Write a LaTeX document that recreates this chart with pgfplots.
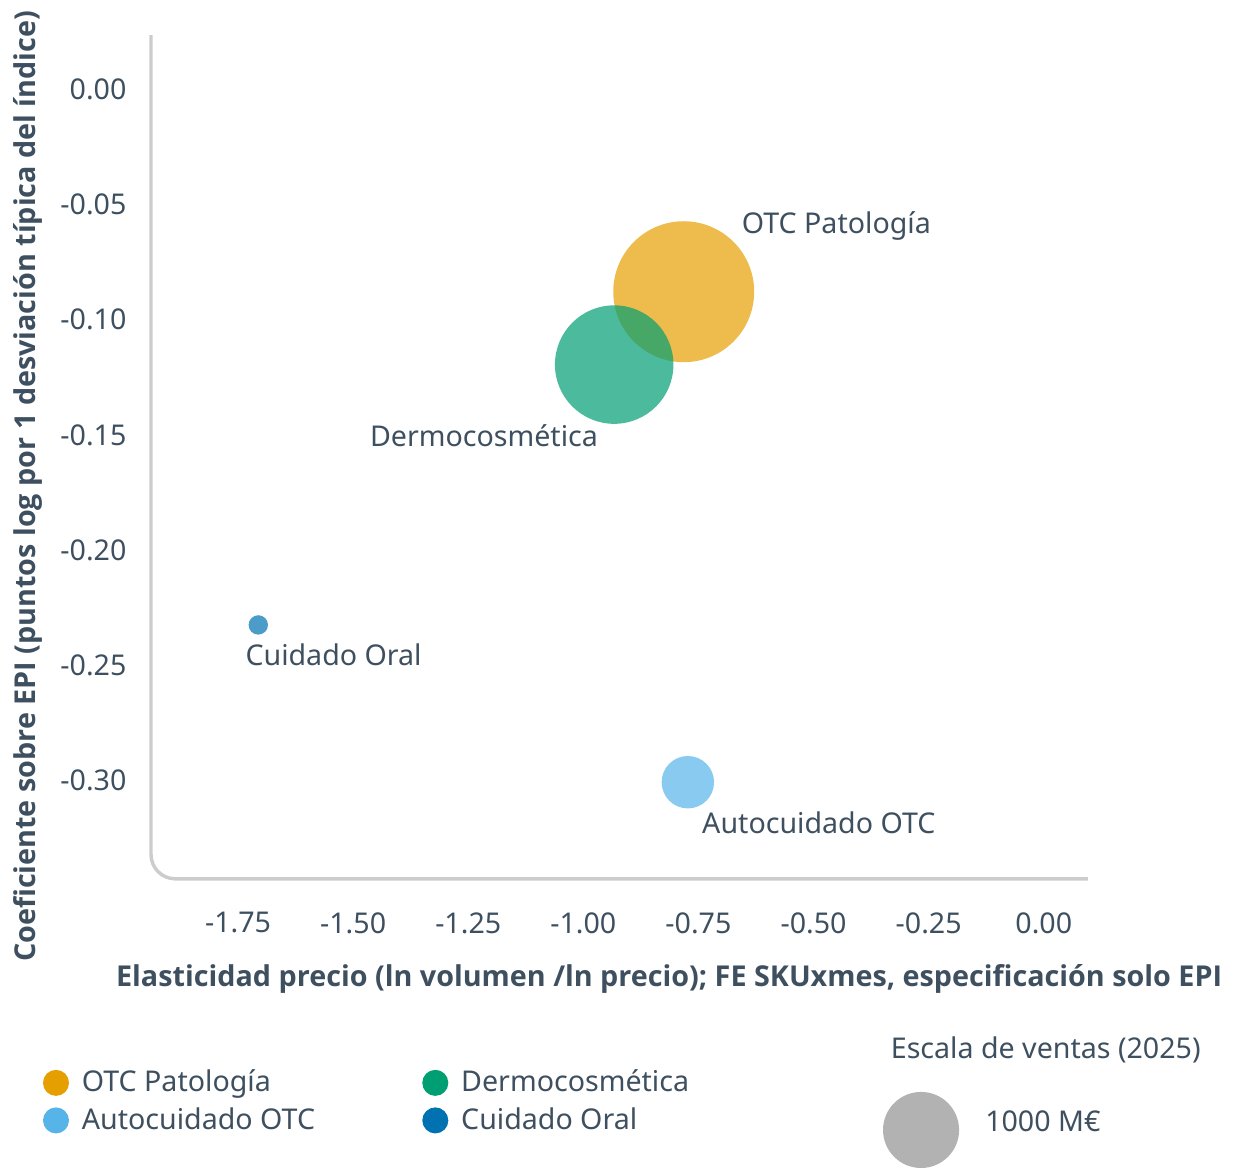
\documentclass[border=0pt]{standalone}
\usepackage{pgfplots}
\pgfplotsset{compat=1.18}
\usepackage{fontspec}
\setmainfont{Noto Sans}[AutoFakeBold=2.2]
\newfontfamily\labfont{Open Sans}
\definecolor{txt}{HTML}{3E5060}
\definecolor{axisgray}{HTML}{CCCCCC}
\definecolor{cOTC}{HTML}{E69F00}
\definecolor{cAuto}{HTML}{56B4E9}
\definecolor{cDerm}{HTML}{009E73}
\definecolor{cOral}{HTML}{0072B2}
\definecolor{cScale}{HTML}{B2B2B2}

% bubble radius: 13.3pt for 1000 M EUR, area proportional to sales
\pgfplotsset{
  bubble/.style={
    only marks, mark=*, scatter,
    scatter/use mapped color={draw=#1, draw opacity=0, fill=#1, fill opacity=0.7},
    visualization depends on={13.3*sqrt(\thisrow{s}/1000) \as \rad},
    scatter/@pre marker code/.append style={/tikz/mark size=\rad pt},
  },
}

\begin{document}
\begin{tikzpicture}
\begin{axis}[
    x=161pt, y=806.4pt,
    xmin=-1.939, xmax=0.096,
    ymin=-0.3425, ymax=0.0234,
    axis lines=left,
    axis line style={draw=none},
    clip=false,
    font=\fontsize{10}{12}\selectfont,
    xtick={-1.75,-1.5,-1.25,-1,-0.75,-0.5,-0.25,0},
    ytick={-0.3,-0.25,-0.2,-0.15,-0.1,-0.05,0},
    /pgf/number format/.cd, fixed, fixed zerofill, precision=2, assume math mode=true,
    /pgfplots/.cd,
    major tick length=0pt,
    tick style={draw=none},
    tick label style={text=txt},
    xticklabel style={anchor=center, yshift=-15.4pt},
    yticklabel style={anchor=east, inner sep=0pt, xshift=-8.4pt},
    xlabel={Elasticidad precio (ln volumen /ln precio); FE SKUxmes, especificación solo EPI},
    ylabel={Coeficiente sobre EPI (puntos log por 1 desviación típica del índice)},
    xlabel style={font=\labfont\bfseries\fontsize{10.05}{12}\selectfont, text=txt,
      at={(axis description cs:0.553,-0.1186)}, anchor=center},
    ylabel style={font=\labfont\bfseries\fontsize{10.05}{12}\selectfont, text=txt,
      at={(axis description cs:-0.131,0.465)}, anchor=center},
    legend columns=2,
    transpose legend,
    legend cell align=left,
    legend image code/.code={\fill[#1, draw=none] (4.55pt,0pt) circle (4.55pt);},
    legend style={draw=none, fill=none, inner sep=0pt, outer sep=0pt,
      at={(axis description cs:-0.1153,-0.2195)}, anchor=north west,
      text=txt, row sep=0pt,
      nodes={inner sep=2pt},
      /tikz/every even column/.append style={column sep=35.5pt}},
]
% axis lines with rounded corner
\draw[axisgray, line width=1.2pt, rounded corners=8.5pt]
  (rel axis cs:0,1) -- (rel axis cs:0,0) -- (rel axis cs:1,0);

\addplot[bubble=cOTC, forget plot] table {
x y s
-0.782 -0.0879 3432
};
\addplot[bubble=cDerm, forget plot] table {
x y s
-0.933 -0.1195 2427
};
\addplot[bubble=cOral, forget plot] table {
x y s
-1.706 -0.2324 65
};
\addplot[bubble=cAuto, forget plot] table {
x y s
-0.773 -0.3006 475
};

% size legend reference bubble (1000 M EUR)
\addplot[only marks, mark=*, scatter,
  scatter/use mapped color={draw=cScale, draw opacity=0, fill=cScale},
  visualization depends on={13.3*sqrt(\thisrow{s}/1000) \as \rad},
  scatter/@pre marker code/.append style={/tikz/mark size=\rad pt},
  forget plot] table {
x y s
-0.2665 -0.4514 1000
};

\node[text=txt, anchor=west, inner sep=0pt] at (axis cs:-0.657,-0.0595) {OTC Patología};
\node[text=txt, anchor=east, inner sep=0pt] at (axis cs:-0.967,-0.1502) {Dermocosmética};
\node[text=txt, anchor=west, inner sep=0pt] at (axis cs:-1.735,-0.2452) {Cuidado Oral};
\node[text=txt, anchor=west, inner sep=0pt] at (axis cs:-0.743,-0.3182) {Autocuidado OTC};

\node[text=txt, anchor=center, inner sep=0pt] at (axis cs:0.0043,-0.4167) {Escala de ventas (2025)};
\node[text=txt, anchor=west, inner sep=0pt] at (axis cs:-0.1283,-0.4475) {1000 M€};

\addlegendimage{fill=cOTC}
\addlegendentry{\hspace{2.5pt}OTC Patología}
\addlegendimage{fill=cAuto}
\addlegendentry{\hspace{2.5pt}Autocuidado OTC}
\addlegendimage{fill=cDerm}
\addlegendentry{\hspace{2.5pt}Dermocosmética}
\addlegendimage{fill=cOral}
\addlegendentry{\hspace{2.5pt}Cuidado Oral}

% picture extent
\path (axis cs:-2.267,0.0386) rectangle (axis cs:0.411,-0.4679);
\end{axis}
\end{tikzpicture}
\end{document}
